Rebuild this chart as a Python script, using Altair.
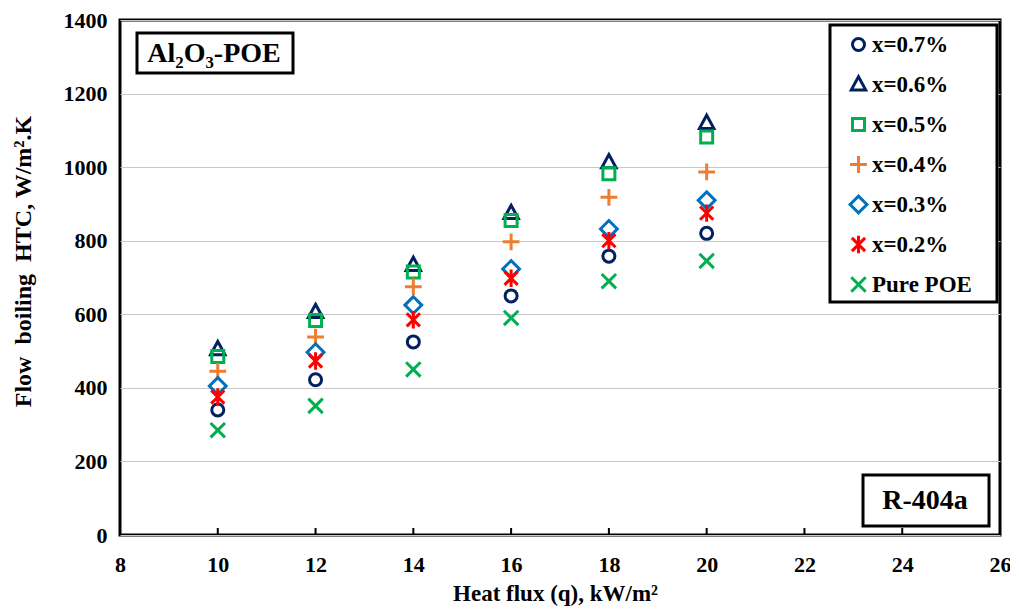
import altair as alt
import pandas as pd

heat_flux = [10, 12, 14, 16, 18, 20]
series_names = ["x=0.7%", "x=0.6%", "x=0.5%", "x=0.4%", "x=0.3%", "x=0.2%", "Pure POE"]
htc_07 = [340, 422, 525, 650, 758, 820]
htc_06 = [505, 606, 734, 875, 1013, 1120]
htc_05 = [485, 583, 715, 855, 982, 1082]
htc_04 = [445, 538, 675, 797, 918, 987]
htc_03 = [405, 497, 625, 723, 832, 910]
htc_02 = [375, 473, 585, 698, 800, 875]
htc_pure = [285, 351, 450, 590, 690, 745]
x_ticks = [8, 10, 12, 14, 16, 18, 20, 22, 24, 26]
y_ticks = [0, 200, 400, 600, 800, 1000, 1200, 1400]

colors = ["#002060", "#002060", "#00B050", "#ED7D31", "#0070C0", "#FF0000", "#00B050"]
shapes = [
    "circle",
    "M0,-1.3L1.2,0.9L-1.2,0.9Z",
    "square",
    "M-1.4,0L1.4,0M0,-1.4L0,1.4",
    "M0,-1.4L1.4,0L0,1.4L-1.4,0Z",
    "M-1.1,-1.1L1.1,1.1M-1.1,1.1L1.1,-1.1M0,-1.45L0,1.45",
    "M-1.2,-1.2L1.2,1.2M-1.2,1.2L1.2,-1.2",
]

all_series = [htc_07, htc_06, htc_05, htc_04, htc_03, htc_02, htc_pure]
rows = []
for name, vals in zip(series_names, all_series):
    for q, h in zip(heat_flux, vals):
        rows.append({"q": q, "htc": h, "series": name})
df = pd.DataFrame(rows)

FONT = "Liberation Serif"
W, H = 880, 515
x_scale = alt.Scale(domain=[8, 26], nice=False, zero=False)
y_scale = alt.Scale(domain=[0, 1400], nice=False)

one = pd.DataFrame({"a": [0]})
legend_box = alt.Chart(one).mark_rect(fill="white", stroke="black", strokeWidth=3).encode(
    x=alt.value(710), x2=alt.value(877), y=alt.value(5), y2=alt.value(282)
)

points = alt.Chart(df).mark_point(filled=False, strokeWidth=3, size=144, opacity=1).encode(
    x=alt.X("q:Q", scale=x_scale,
            axis=alt.Axis(values=x_ticks, title="Heat flux (q), kW/m²", grid=False,
                          ticks=False, labelPadding=19, domain=False, format="d",
                          labelFlush=False,
                          titleX=435, titleY=58, titleAnchor="middle",
                          titleBaseline="middle", titleFontSize=23)),
    y=alt.Y("htc:Q", scale=y_scale,
            axis=alt.Axis(values=y_ticks, title="Flow\u00a0\u00a0boiling\u00a0\u00a0HTC, W/m².K",
                          grid=True, ticks=False, labelPadding=13, domain=False, format="d",
                          labelFlush=False,
                          titleX=-97, titleY=241, titleAngle=270,
                          titleAlign="center", titleBaseline="middle", titleFontSize=24)),
    color=alt.Color("series:N", scale=alt.Scale(domain=series_names, range=colors),
                    legend=alt.Legend(title=None, orient="none", legendX=705, legendY=1,
                                      padding=12, rowPadding=9, gridAlign="all",
                                      symbolSize=144,
                                      symbolStrokeWidth=3, labelFontSize=23, labelFont=FONT,
                                      labelFontWeight="bold", labelColor="black",
                                      symbolOffset=10, labelOffset=2)),
    shape=alt.Shape("series:N", scale=alt.Scale(domain=series_names, range=shapes)),
)

tick_df = pd.DataFrame({"q": x_ticks[1:-1]})
ticks = alt.Chart(tick_df).mark_rule(color="black", strokeWidth=2).encode(
    x=alt.X("q:Q", scale=x_scale), y=alt.value(H), y2=alt.value(H - 7)
)

box1 = alt.Chart(one).mark_rect(fill="white", stroke="black", strokeWidth=3).encode(
    x=alt.value(17), x2=alt.value(173), y=alt.value(13), y2=alt.value(53)
)
text1 = alt.Chart(one).mark_text(font=FONT, fontWeight="bold", fontSize=28, color="black",
                                 baseline="middle").encode(
    x=alt.value(94), y=alt.value(34), text=alt.value("Al₂O₃-POE")
)
box2 = alt.Chart(one).mark_rect(fill="white", stroke="black", strokeWidth=3).encode(
    x=alt.value(743), x2=alt.value(869), y=alt.value(455), y2=alt.value(506)
)
text2 = alt.Chart(one).mark_text(font=FONT, fontWeight="bold", fontSize=28, color="black",
                                 baseline="middle").encode(
    x=alt.value(805), y=alt.value(481), text=alt.value("R-404a")
)

chart = alt.layer(legend_box, points, ticks, box1, text1, box2, text2).properties(
    width=W, height=H,
    autosize=alt.AutoSizeParams(type="none"),
    padding={"left": 112, "top": 12, "right": 10, "bottom": 72},
).configure_view(
    stroke="black", strokeWidth=3
).configure_axis(
    labelFont=FONT, labelFontSize=22, labelFontWeight="bold", labelColor="black",
    titleFont=FONT, titleFontSize=24, titleFontWeight="bold", titleColor="black",
    gridColor="#C8C8C8", gridWidth=1.2
)

chart.save("out.html", embed_options={"renderer": "svg", "actions": False})
